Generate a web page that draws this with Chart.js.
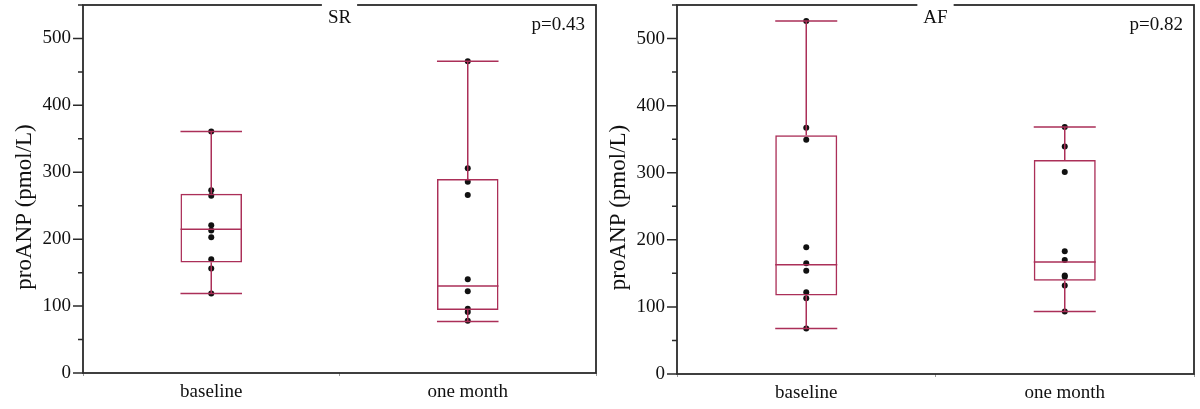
<!DOCTYPE html>
<html>
<head>
<meta charset="utf-8">
<script src="https://cdn.jsdelivr.net/npm/chart.js@4"></script>
<style>
    body { margin: 0; background: #fff; }
    .panels { display: flex; width: 1200px; height: 409px; }
    .panel { width: 600px; height: 409px; }
</style>
</head>
<body>
<div class="panels">
    <div class="panel"><canvas id="sr-chart" width="600" height="409"></canvas></div>
    <div class="panel"><canvas id="af-chart" width="600" height="409"></canvas></div>
</div>
<script>
const categories = ['baseline', 'one month'];
const yMax = 550;
const yStep = 50;

// SR group: raw points and box statistics [baseline, one month]
const srBaselinePoints = [361, 273, 265, 221, 213, 203, 170, 156, 119];
const srMonthPoints = [466, 306, 286, 266, 140, 122, 96, 91, 78];
const srMin = [119, 77];
const srQ1 = [165, 94];
const srMedian = [215, 130];
const srQ3 = [268, 290];
const srMax = [361, 466];

// AF group
const afBaselinePoints = [526, 367, 349, 189, 165, 154, 122, 113, 68];
const afMonthPoints = [368, 339, 301, 183, 170, 147, 145, 132, 93];
const afMin = [68, 93];
const afQ1 = [117, 139];
const afMedian = [163, 167];
const afQ3 = [356, 319];
const afMax = [526, 368];

const boxColor = '#ab2f58';
const frameColor = '#2b2b2b';
const serif = "'Liberation Serif', 'DejaVu Serif', serif";

const boxPlugin = {
    id: 'boxWhiskers',
    afterDatasetsDraw(chart, args, opts) {
        const ctx = chart.ctx;
        const y = chart.scales.y;
        const meta = chart.getDatasetMeta(0);
        ctx.save();
        ctx.strokeStyle = boxColor;
        ctx.lineWidth = 1.5;
        meta.data.forEach((bar, i) => {
            const half = bar.width / 2;
            const yMin = y.getPixelForValue(opts.min[i]);
            const yMaxPx = y.getPixelForValue(opts.max[i]);
            const yQ1 = y.getPixelForValue(opts.q1[i]);
            const yQ3 = y.getPixelForValue(opts.q3[i]);
            const yMed = y.getPixelForValue(opts.median[i]);
            ctx.beginPath();
            ctx.moveTo(bar.x, yQ3); ctx.lineTo(bar.x, yMaxPx);
            ctx.moveTo(bar.x, yQ1); ctx.lineTo(bar.x, yMin);
            ctx.moveTo(bar.x - half, yMaxPx); ctx.lineTo(bar.x + half, yMaxPx);
            ctx.moveTo(bar.x - half, yMin); ctx.lineTo(bar.x + half, yMin);
            ctx.moveTo(bar.x - half, yMed); ctx.lineTo(bar.x + half, yMed);
            ctx.stroke();
        });
        ctx.restore();
    }
};

const framePlugin = {
    id: 'panelFrame',
    afterDraw(chart, args, opts) {
        const ctx = chart.ctx;
        const area = chart.chartArea;
        const y = chart.scales.y;
        ctx.save();
        ctx.strokeStyle = frameColor;
        ctx.lineWidth = 1.8;
        ctx.strokeRect(area.left, area.top, area.right - area.left, area.bottom - area.top);

        // y ticks: long at labelled values, short in between
        ctx.lineWidth = 1.5;
        ctx.beginPath();
        y.ticks.forEach(t => {
            const py = y.getPixelForValue(t.value);
            const len = t.value % 100 === 0 ? 10 : 5;
            ctx.moveTo(area.left - len, py);
            ctx.lineTo(area.left, py);
        });
        ctx.stroke();

        // panel title sits in a gap of the top border
        ctx.font = '19px ' + serif;
        ctx.textBaseline = 'middle';
        ctx.textAlign = 'center';
        const cx = (area.left + area.right) / 2;
        const w = ctx.measureText(opts.title).width + 12;
        ctx.fillStyle = '#fff';
        ctx.fillRect(cx - w / 2, area.top - 2, w, 4);
        ctx.fillStyle = '#111';
        ctx.fillText(opts.title, cx, area.top + 13);

        ctx.textAlign = 'right';
        ctx.fillText(opts.pValue, area.right - 11, area.top + 20);

        // y axis title
        ctx.font = '23px ' + serif;
        ctx.textAlign = 'center';
        ctx.translate(area.left - 58, (area.top + area.bottom) / 2 + 18);
        ctx.rotate(-Math.PI / 2);
        ctx.fillText('proANP (pmol/L)', 0, 0);
        ctx.restore();
    }
};

function makePanel(canvasId, title, pValue, baselinePoints, monthPoints, mins, q1s, medians, q3s, maxs, axisWidth, rightPad, axisHeight) {
    const ctx = document.getElementById(canvasId).getContext('2d');
    const points = baselinePoints.map(v => ({ x: categories[0], y: v }))
        .concat(monthPoints.map(v => ({ x: categories[1], y: v })));
    return new Chart(ctx, {
        type: 'bar',
        data: {
            labels: categories,
            datasets: [{
                type: 'bar',
                data: q1s.map((q, i) => [q, q3s[i]]),
                backgroundColor: 'rgba(0,0,0,0)',
                borderColor: boxColor,
                borderWidth: 1.5,
                borderSkipped: false,
                barPercentage: 0.24,
                categoryPercentage: 1,
                order: 1
            }, {
                type: 'scatter',
                data: points,
                pointRadius: 3,
                backgroundColor: '#111',
                borderColor: '#111',
                borderWidth: 0,
                order: 2
            }]
        },
        options: {
            responsive: false,
            animation: false,
            layout: { padding: { top: 5, right: rightPad, left: 0, bottom: 0 } },
            plugins: {
                legend: { display: false },
                tooltip: { enabled: false },
                boxWhiskers: { min: mins, q1: q1s, median: medians, q3: q3s, max: maxs },
                panelFrame: { title: title, pValue: pValue }
            },
            scales: {
                x: {
                    type: 'category',
                    offset: true,
                    border: { display: false },
                    grid: { display: true, drawOnChartArea: false, tickLength: 3, color: '#999', offset: true },
                    ticks: { color: '#111', font: { family: serif, size: 19 }, padding: 5 },
                    afterFit: scale => {
                        scale.height = axisHeight;
                        scale.paddingLeft = 0;
                        scale.paddingRight = 0;
                    }
                },
                y: {
                    min: 0,
                    max: yMax,
                    border: { display: false },
                    grid: { display: false, drawTicks: false },
                    ticks: {
                        stepSize: yStep,
                        color: '#111',
                        padding: 12,
                        font: { family: serif, size: 19 },
                        callback: v => (v % 100 === 0 ? v : '')
                    },
                    afterFit: scale => {
                        scale.width = axisWidth;
                        scale.paddingTop = 0;
                        scale.paddingBottom = 0;
                    }
                }
            }
        },
        plugins: [boxPlugin, framePlugin]
    });
}

window.onload = function () {
    makePanel('sr-chart', 'SR', 'p=0.43', srBaselinePoints, srMonthPoints, srMin, srQ1, srMedian, srQ3, srMax, 83, 4, 36);
    makePanel('af-chart', 'AF', 'p=0.82', afBaselinePoints, afMonthPoints, afMin, afQ1, afMedian, afQ3, afMax, 77, 6, 35);
};
</script>
</body>
</html>
